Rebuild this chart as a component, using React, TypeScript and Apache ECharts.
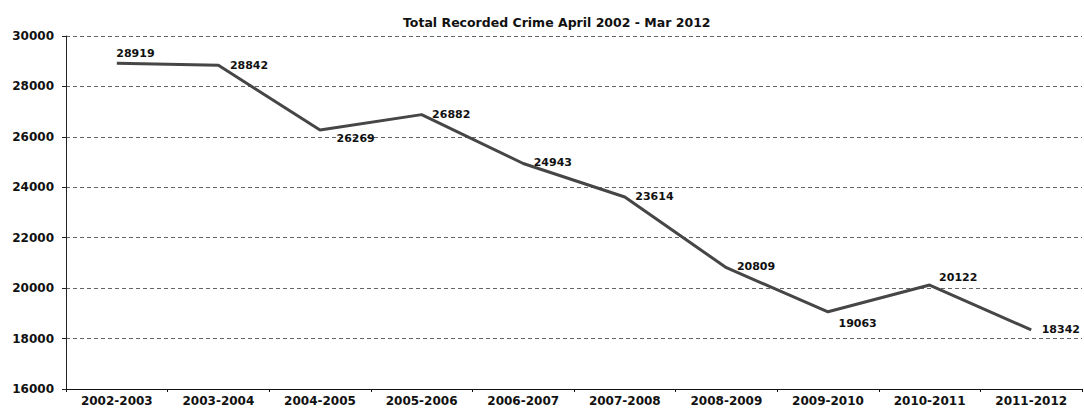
import React, { useEffect, useRef } from "react";
import * as echarts from "echarts";

const categories = ["2002-2003", "2003-2004", "2004-2005", "2005-2006", "2006-2007", "2007-2008", "2008-2009", "2009-2010", "2010-2011", "2011-2012"];
const crimeValues = [28919, 28842, 26269, 26882, 24943, 23614, 20809, 19063, 20122, 18342];
// label placement offsets [dx, dy] relative to "right" position
const labelOffsets: [number, number][] = [
  [-11, -10], [1, 0], [6, 8], [0, 0], [0, -1], [0, -1], [0, -1], [0, 12], [-1, -8], [0, 0],
];
const yTicks = { min: 16000, max: 30000, interval: 2000 };
const titleText = "Total Recorded Crime April 2002 - Mar 2012";

const FONT = "'DejaVu Sans', Arial, sans-serif";

export default function App() {
  const ref = useRef<HTMLDivElement>(null);
  useEffect(() => {
    if (!ref.current) return;
    const chart = echarts.init(ref.current, null, { renderer: "svg" });
    chart.setOption({
      animation: false,
      backgroundColor: "#ffffff",
      title: {
        text: titleText,
        left: 398,
        top: 11,
        textStyle: { fontFamily: FONT, fontSize: 12.5, fontWeight: "bold", color: "#111" },
      },
      grid: { left: 66, right: 2, top: 36, bottom: 19, containLabel: false },
      xAxis: {
        type: "category",
        data: categories,
        boundaryGap: true,
        axisLine: { lineStyle: { color: "#111", width: 1 } },
        axisTick: { show: true, length: 3, lineStyle: { color: "#111" } },
        axisLabel: { fontFamily: FONT, fontSize: 12, fontWeight: "bold", color: "#111", margin: 6 },
        splitLine: { show: false },
      },
      yAxis: {
        type: "value",
        min: yTicks.min,
        max: yTicks.max,
        interval: yTicks.interval,
        axisLine: { show: true, lineStyle: { color: "#222", width: 1 } },
        axisTick: { show: true, length: 4, lineStyle: { color: "#222" } },
        axisLabel: {
          fontFamily: FONT, fontSize: 12, fontWeight: "bold", color: "#111", margin: 12,
          formatter: (v: number) => String(v),
        },
        splitLine: { show: true, lineStyle: { color: "#666", type: [4, 3], width: 1 } },
      },
      series: [
        {
          type: "line",
          data: crimeValues.map((v, i) => ({
            value: v,
            label: { offset: labelOffsets[i] },
          })),
          showSymbol: true,
          symbol: "circle",
          symbolSize: 1,
          itemStyle: { color: "rgba(0,0,0,0)", borderWidth: 0 },
          lineStyle: { color: "#464646", width: 3 },
          label: {
            show: true,
            position: "right",
            distance: 10,
            fontFamily: FONT,
            fontSize: 11,
            fontWeight: "bold",
            color: "#111",
          },
        },
      ],
    });
    return () => chart.dispose();
  }, []);
  return <div ref={ref} style={{ width: 1084, height: 408, position: "absolute", left: 0, top: 0 }} />;
}
